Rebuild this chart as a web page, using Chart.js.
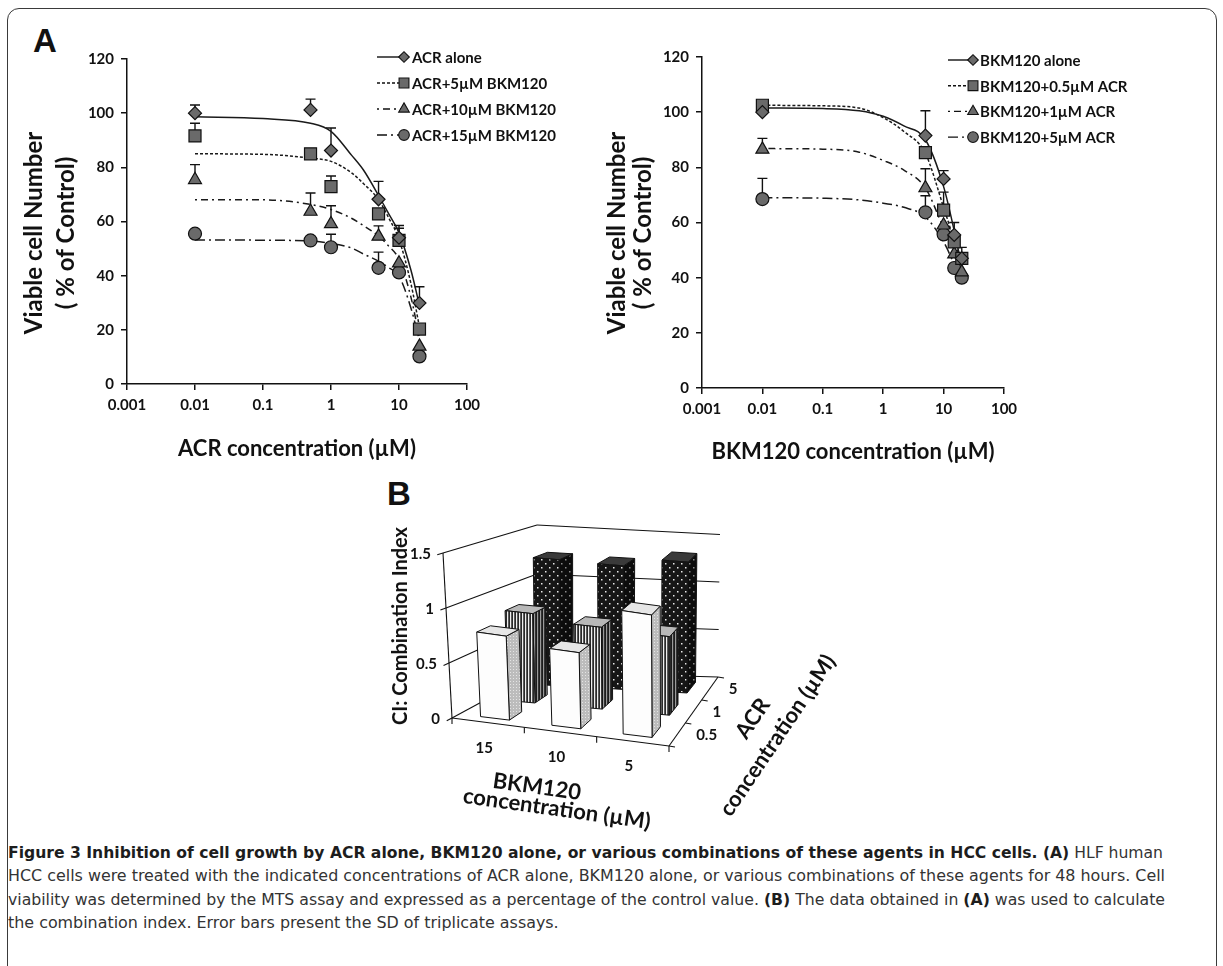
<!DOCTYPE html>
<html>
<head>
<meta charset="utf-8">
<title>Figure 3</title>
<script src="https://cdn.jsdelivr.net/npm/chart.js@4.4.1/dist/chart.umd.min.js"></script>
<style>
  body { margin: 0; background: #fff; }
  #page { position: relative; width: 1223px; height: 966px; overflow: hidden; font-family: Lato, sans-serif; color: #111; }
  #frame { position: absolute; left: 7px; top: 8px; width: 1208px; height: 1000px; border: 1.5px solid #3a3a3a; border-radius: 12px; }
  canvas { position: absolute; }
  .tag { position: absolute; font: bold 33px "Liberation Sans", Arial, sans-serif; line-height: 1; }
  .lbl { position: absolute; font: bold 22px Lato, sans-serif; white-space: nowrap; line-height: 1; }
  #caption { position: absolute; left: 8px; top: 841px; font-family: "Liberation Sans Narrow", "DejaVu Sans Condensed", sans-serif; font-size: 16px; color: #333; line-height: 23.4px; }
  #caption div { white-space: nowrap; transform-origin: left center; }
  #caption b { font-weight: 700; color: #1d1d1d; }
</style>
</head>
<body>
<div id="page">
  <div id="frame"></div>
  <div class="tag" style="left:33px; top:24px;">A</div>
  <div class="tag" style="left:387px; top:477px;">B</div>

  <canvas id="acrChart" width="600" height="480" style="left:0; top:0;"></canvas>
  <canvas id="bkmChart" width="623" height="480" style="left:600px; top:0;"></canvas>
  <canvas id="ciChart" width="500" height="360" style="left:380px; top:470px;"></canvas>

  <div class="lbl" style="left:399px; top:626px; font-size:20px; transform: translate(-50%,-50%) rotate(-90deg);">CI: Combination Index</div>
  <div class="lbl" style="left:537px; top:786px; transform: translate(-50%,-50%) rotate(8deg);">BKM120</div>
  <div class="lbl" style="left:557px; top:808px; transform: translate(-50%,-50%) rotate(8deg);">concentration (µM)</div>
  <div class="lbl" style="left:752px; top:718px; transform: translate(-50%,-50%) rotate(-56deg);">ACR</div>
  <div class="lbl" style="left:777px; top:735px; transform: translate(-50%,-50%) rotate(-56deg);">concentration (µM)</div>

  <div id="caption">
    <div><span><b>Figure 3 Inhibition of cell growth by ACR alone, BKM120 alone, or various combinations of these agents in HCC cells. (A)</b> HLF human</span></div>
    <div><span>HCC cells were treated with the indicated concentrations of ACR alone, BKM120 alone, or various combinations of these agents for 48 hours. Cell</span></div>
    <div><span>viability was determined by the MTS assay and expressed as a percentage of the control value. <b>(B)</b> The data obtained in <b>(A)</b> was used to calculate</span></div>
    <div><span>the combination index. Error bars present the SD of triplicate assays.</span></div>
  </div>
</div>

<script>
// ---- panel A, left: ACR dose series (% of control)
const acrDose = [0.01, 0.5, 1, 5, 10, 20];
const acrAlone = [100, 101.2, 86.2, 68.2, 54, 29.9];
const acrAloneErr = [3, 4, 8.3, 6.6, 4.5, 6];
const acrBkm5 = [91.6, 85, 72.9, 62.8, 53, 20.3];
const acrBkm5Err = [4.7, 0, 3.9, 0, 4.5, 0];
const acrBkm10 = [75.4, 63.7, 59.1, 54.5, 44.6, 13.9];
const acrBkm10Err = [5.6, 6.8, 6.7, 3.9, 0, 0];
const acrBkm15 = [55.5, 53, 50.5, 42.9, 41.2, 10.2];
const acrBkm15Err = [0, 0, 4.8, 5.8, 0, 0];

// fitted curves
const acrFitDose = [0.01, 0.1, 0.5, 1, 2, 3, 5, 7, 10, 15, 20];
const acrAloneFit = [98.7, 98, 96.3, 93.3, 84.5, 79, 69.6, 63, 55.8, 42, 29];
const acrBkm5Fit = [85, 84.8, 83.4, 82.2, 78, 74, 68.1, 61.5, 53.4, 37, 21];
const acrBkm10Fit = [68, 68, 66.3, 64.4, 61.2, 58.5, 54.6, 51, 46, 32, 17];
const acrBkm15Fit = [53.2, 53.1, 52.8, 51.9, 50.2, 48, 45.4, 43, 39.9, 28, 16];

// ---- panel A, right: BKM120 dose series
const bkmDose = [0.01, 5, 10, 15, 20];
const bkmAlone = [100, 91.5, 75.8, 55.5, 47];
const bkmAloneErr = [0, 9, 3, 4.5, 0];
const bkmAcr05 = [102.5, 85.3, 64.5, 53, 47];
const bkmAcr05Err = [1, 0, 6.5, 0, 4];
const bkmAcr1 = [86.5, 72.5, 59, 48.5, 42];
const bkmAcr1Err = [4, 7, 0, 0, 0];
const bkmAcr5 = [68.5, 63.7, 55.7, 43.5, 40];
const bkmAcr5Err = [7.5, 6, 0, 0, 0];

const bkmFitDose = [0.01, 0.1, 0.4, 1, 2.2, 5, 10, 15, 20];
const bkmAloneFit = [101.5, 101.3, 100.5, 98.5, 95, 90, 73, 57, 44];
const bkmAcr05Fit = [102.5, 102.3, 101.5, 98, 93, 85, 65.5, 53.5, 45.5];
const bkmAcr1Fit = [86.8, 86.6, 85.5, 82.5, 79, 72.5, 58, 50, 44];
const bkmAcr5Fit = [69, 68.8, 68.2, 67, 65.5, 62, 53, 45, 40];

const doseTicks = [0.001, 0.01, 0.1, 1, 10, 100];
const doseTickLabels = ['0.001', '0.01', '0.1', '1', '10', '100'];
const viabilityTicks = [0, 20, 40, 60, 80, 100, 120];

// ---- panel B: combination index
const bkmGroups = ['15', '10', '5'];
const acrRows = ['0.5', '1', '5'];
const ciAcr05 = [0.78, 0.72, 1.18];
const ciAcr1 = [0.86, 0.8, 0.78];
const ciAcr5 = [1.26, 1.25, 1.34];
const ciTicks = [0, 0.5, 1, 1.5];
const ciTickLabels = ['0', '0.5', '1', '1.5'];

Chart.defaults.font.family = 'Lato';
Chart.defaults.color = '#111';

const INK = '#111';
const DASH_DOT = [3, 2];
const DASH_DOTDASH = [2, 4, 7, 4];
const DASH_LONG = [10, 4, 2, 4];

// error bars go upward only, drawn behind the markers
const errorBars = {
  id: 'errorBars',
  beforeDatasetsDraw(chart) {
    const { ctx, scales: { x, y } } = chart;
    ctx.save();
    ctx.strokeStyle = INK;
    ctx.lineWidth = 1.4;
    chart.data.datasets.forEach((ds) => {
      if (!ds.errors) return;
      ds.data.forEach((p, i) => {
        const e = ds.errors[i];
        if (!e) return;
        const px = x.getPixelForValue(p.x);
        const py = y.getPixelForValue(p.y);
        const pe = y.getPixelForValue(p.y + e);
        ctx.beginPath();
        ctx.moveTo(px, py);
        ctx.lineTo(px, pe);
        ctx.moveTo(px - 5, pe);
        ctx.lineTo(px + 5, pe);
        ctx.stroke();
      });
    });
    ctx.restore();
  },
};

// "———◆ label" style legend like the excel original
const lineLegend = {
  id: 'lineLegend',
  afterDraw(chart, args, opts) {
    const ctx = chart.ctx;
    ctx.save();
    chart.data.datasets.filter((d) => d.errors).forEach((ds, i) => {
      const y = opts.top + i * opts.step;
      ctx.strokeStyle = INK;
      ctx.lineWidth = 1.4;
      ctx.setLineDash(ds.legendDash);
      ctx.beginPath();
      ctx.moveTo(opts.left, y);
      ctx.lineTo(opts.left + opts.len, y);
      ctx.stroke();
      ctx.setLineDash([]);
      ctx.fillStyle = ds.backgroundColor;
      ctx.strokeStyle = ds.borderColor;
      ctx.lineWidth = 1.1;
      Chart.helpers.drawPoint(ctx, { pointStyle: ds.pointStyle, radius: ds.pointRadius * 0.82, borderWidth: 1.1, rotation: 0 }, opts.left + opts.len, y);
      ctx.fillStyle = INK;
      ctx.font = opts.font;
      ctx.textAlign = 'left';
      ctx.textBaseline = 'middle';
      ctx.fillText(ds.label, opts.textX, y + 1);
    });
    ctx.restore();
  },
};

// two line rotated y title, placed by hand
const sideTitle = {
  id: 'sideTitle',
  afterDraw(chart, args, opts) {
    const ctx = chart.ctx;
    ctx.save();
    ctx.font = opts.font;
    ctx.fillStyle = INK;
    ctx.textAlign = 'center';
    ctx.textBaseline = 'middle';
    opts.lines.forEach((t, i) => {
      ctx.save();
      ctx.translate(opts.x[i], opts.y);
      ctx.rotate(-Math.PI / 2);
      ctx.fillText(t, 0, 0);
      ctx.restore();
    });
    ctx.restore();
  },
};

function doseDatasets(dose, fitDose, series) {
  const fits = series.map((s) => ({
    label: s.label + ' fit',
    data: fitDose.map((x, i) => ({ x, y: s.fit[i] })),
    showLine: true,
    pointRadius: 0,
    borderColor: '#1a1a1a',
    borderWidth: 1.5,
    borderDash: s.dash,
    cubicInterpolationMode: 'monotone',
    order: 2,
  }));
  const pts = series.map((s) => ({
    label: s.label,
    data: dose.map((x, i) => ({ x, y: s.values[i] })),
    errors: s.errors,
    legendDash: s.dash,
    showLine: false,
    pointStyle: s.marker,
    pointRadius: s.size,
    backgroundColor: '#6a6a6a',
    borderColor: INK,
    borderWidth: 1.2,
    order: 1,
  }));
  return fits.concat(pts);
}

function doseOptions(cfg) {
  const tickFont = { family: 'Lato', size: 15, weight: 'bold' };
  const axisLine = { color: INK, width: 1.5 };
  const tickGrid = { drawOnChartArea: false, color: INK, lineWidth: 1.5, tickLength: 6 };
  return {
    responsive: false,
    animation: false,
    events: [],
    layout: { padding: cfg.padding },
    scales: {
      x: {
        type: 'logarithmic',
        min: 0.001,
        max: 100,
        afterBuildTicks: (s) => { s.ticks = doseTicks.map((v) => ({ value: v })); },
        afterFit: (s) => { s.height = cfg.xHeight; },
        border: axisLine,
        grid: tickGrid,
        ticks: { font: tickFont, color: INK, padding: 6, autoSkip: false, maxRotation: 0, callback: (v, i) => doseTickLabels[i] },
        title: { display: true, text: cfg.xTitle, color: INK, font: { family: 'Lato', size: 22, weight: 'bold' }, padding: { top: 0, bottom: 4 } },
      },
      y: {
        min: 0,
        max: 120,
        afterBuildTicks: (s) => { s.ticks = viabilityTicks.map((v) => ({ value: v })); },
        afterFit: (s) => { s.width = cfg.yWidth; },
        border: axisLine,
        grid: tickGrid,
        ticks: { font: tickFont, color: INK, padding: 7 },
      },
    },
    plugins: {
      legend: { display: false },
      tooltip: { enabled: false },
      lineLegend: cfg.legend,
      sideTitle: cfg.side,
    },
  };
}

const yTitleLines = ['Viable cell Number', '( % of Control)'];
const yTitleFont = 'bold 24px Lato';

new Chart(document.getElementById('acrChart'), {
  type: 'scatter',
  data: {
    datasets: doseDatasets(acrDose, acrFitDose, [
      { label: 'ACR alone', values: acrAlone, errors: acrAloneErr, fit: acrAloneFit, dash: [], marker: 'rectRot', size: 6.5 },
      { label: 'ACR+5µM BKM120', values: acrBkm5, errors: acrBkm5Err, fit: acrBkm5Fit, dash: DASH_DOT, marker: 'rect', size: 8.5 },
      { label: 'ACR+10µM BKM120', values: acrBkm10, errors: acrBkm10Err, fit: acrBkm10Fit, dash: DASH_DOTDASH, marker: 'triangle', size: 7.5 },
      { label: 'ACR+15µM BKM120', values: acrBkm15, errors: acrBkm15Err, fit: acrBkm15Fit, dash: DASH_LONG, marker: 'circle', size: 6.5 },
    ]),
  },
  options: doseOptions({
    padding: { left: 13, right: 133, top: 59, bottom: 14 },
    yWidth: 114,
    xHeight: 82,
    xTitle: 'ACR concentration (µM)',
    legend: { left: 377, len: 27, textX: 412, top: 57, step: 26, font: 'bold 15px Lato' },
    side: { lines: yTitleLines, x: [34, 66], y: 233, font: yTitleFont },
  }),
  plugins: [errorBars, lineLegend, sideTitle],
});

new Chart(document.getElementById('bkmChart'), {
  type: 'scatter',
  data: {
    datasets: doseDatasets(bkmDose, bkmFitDose, [
      { label: 'BKM120 alone', values: bkmAlone, errors: bkmAloneErr, fit: bkmAloneFit, dash: [], marker: 'rectRot', size: 6.5 },
      { label: 'BKM120+0.5µM ACR', values: bkmAcr05, errors: bkmAcr05Err, fit: bkmAcr05Fit, dash: DASH_DOT, marker: 'rect', size: 8.5 },
      { label: 'BKM120+1µM ACR', values: bkmAcr1, errors: bkmAcr1Err, fit: bkmAcr1Fit, dash: DASH_DOTDASH, marker: 'triangle', size: 7.5 },
      { label: 'BKM120+5µM ACR', values: bkmAcr5, errors: bkmAcr5Err, fit: bkmAcr5Fit, dash: DASH_LONG, marker: 'circle', size: 6.5 },
    ]),
  },
  options: doseOptions({
    padding: { left: 2, right: 219, top: 57, bottom: 11 },
    yWidth: 100,
    xHeight: 81,
    xTitle: 'BKM120 concentration (µM)',
    legend: { left: 348, len: 25, textX: 380, top: 60, step: 25.7, font: 'bold 15px Lato' },
    side: { lines: yTitleLines, x: [17, 43], y: 233, font: yTitleFont },
  }),
  plugins: [errorBars, lineLegend, sideTitle],
});

// ---- panel B: fake excel 3d columns, bars come from the bar elements,
// then get pushed through a small perspective-ish projection
function makePattern(w, h, paint) {
  const c = document.createElement('canvas');
  c.width = w;
  c.height = h;
  paint(c.getContext('2d'));
  return c.getContext('2d').createPattern(c, 'repeat');
}

const stripes = (cols) => makePattern(cols.length, 1, (g) => {
  cols.forEach((c, i) => { g.fillStyle = c; g.fillRect(i, 0, 1, 1); });
});
const dots = (bg, dot) => makePattern(8, 8, (g) => {
  g.fillStyle = bg; g.fillRect(0, 0, 8, 8);
  g.fillStyle = dot; g.fillRect(1, 1, 1.5, 1.5); g.fillRect(5, 5, 1.5, 1.5);
});
const speckle = makePattern(3, 3, (g) => {
  g.fillStyle = '#bcbcbc'; g.fillRect(0, 0, 3, 3);
  g.fillStyle = '#e4e4e4'; g.fillRect(1, 1, 1, 1);
});

const rowFills = [
  { front: '#fdfdfd', side: speckle, top: '#e6e6e6' },
  { front: stripes(['#2a2a2a', '#eeeeee', '#5a5a5a']), side: stripes(['#1c1c1c', '#9a9a9a', '#333333']), top: '#b8b8b8' },
  { front: dots('#161616', '#e8e8e8'), side: dots('#0c0c0c', '#8a8a8a'), top: '#3a3a3a' },
];

function makeProjector(g) {
  const lerp = (a, b, t) => a + (b - a) * t;
  return (u, w, v) => {
    const fx = lerp(g.FL[0], g.FR[0], u), fy = lerp(g.FL[1], g.FR[1], u);
    const bx = lerp(g.BL[0], g.BR[0], u), by = lerp(g.BL[1], g.BR[1], u);
    const s = lerp(lerp(g.scale[0], g.scale[1], u), lerp(g.scale[2], g.scale[3], u), w);
    const lean = lerp(lerp(g.lean[0], g.lean[1], u), lerp(g.lean[2], g.lean[3], u), w);
    return [lerp(fx, bx, w) + lean * v, lerp(fy, by, w) - s * v];
  };
}

function seg(ctx, a, b) {
  ctx.beginPath();
  ctx.moveTo(a[0], a[1]);
  ctx.lineTo(b[0], b[1]);
  ctx.stroke();
}

function face(ctx, pts, fill) {
  ctx.beginPath();
  pts.forEach((p, i) => (i ? ctx.lineTo(p[0], p[1]) : ctx.moveTo(p[0], p[1])));
  ctx.closePath();
  ctx.fillStyle = fill;
  ctx.fill();
  ctx.stroke();
}

const box3d = {
  id: 'box3d',
  beforeDatasetsDraw(chart, args, g) {
    const ctx = chart.ctx;
    const P = makeProjector(g);
    const top = ciTicks[ciTicks.length - 1];
    ctx.save();
    ctx.strokeStyle = INK;
    ctx.lineWidth = 1.1;
    // wall gridlines (left wall + back wall)
    ciTicks.forEach((v) => {
      seg(ctx, P(0, 0, v), P(0, 1, v));
      seg(ctx, P(0, 1, v), P(1, 1, v));
    });
    // floor edges and value axis
    seg(ctx, P(0, 0, 0), P(1, 0, 0));
    seg(ctx, P(1, 0, 0), P(1, 1, 0));
    seg(ctx, P(0, 0, 0), P(0, 0, top));

    ctx.font = 'bold 15px Lato';
    ctx.fillStyle = INK;
    ctx.textBaseline = 'middle';
    // value ticks
    ciTicks.forEach((v, i) => {
      const a = P(0, 0, v), b = P(0, 1, v);
      const d = Math.hypot(a[0] - b[0], a[1] - b[1]);
      const t = [a[0] + (a[0] - b[0]) / d * 6, a[1] + (a[1] - b[1]) / d * 6];
      seg(ctx, a, t);
      ctx.textAlign = 'right';
      ctx.fillText(ciTickLabels[i], a[0] - 12, a[1] + 1);
    });
    // BKM120 category ticks + labels along the front edge
    const n = bkmGroups.length;
    for (let i = 0; i <= n; i++) {
      const a = P(i / n, 0, 0);
      seg(ctx, a, [a[0], a[1] + 6]);
    }
    ctx.textAlign = 'center';
    bkmGroups.forEach((lab, i) => {
      const a = P((i + 0.5) / n, 0, 0);
      ctx.fillText(lab, a[0] - 4, a[1] + 25);
    });
    // ACR depth ticks + labels along the right floor edge
    const m = acrRows.length;
    for (let r = 0; r <= m; r++) {
      const a = P(1, r / m, 0);
      seg(ctx, a, [a[0] + 6, a[1] + 1]);
    }
    ctx.textAlign = 'left';
    acrRows.forEach((lab, r) => {
      const a = P(1, (r + 0.5) / m, 0);
      ctx.fillText(lab, a[0] + 19, a[1] + 1);
    });
    ctx.restore();
  },
  afterDatasetsDraw(chart, args, g) {
    const ctx = chart.ctx;
    const P = makeProjector(g);
    const area = chart.chartArea;
    const ys = chart.scales.y;
    const m = chart.data.datasets.length;
    ctx.save();
    ctx.strokeStyle = INK;
    ctx.lineWidth = 1;
    ctx.lineJoin = 'round';
    // back row first so the front columns cover it
    for (let r = m - 1; r >= 0; r--) {
      const meta = chart.getDatasetMeta(r);
      const fills = rowFills[r];
      const w0 = (r + 0.5) / m - g.thick / 2;
      const w1 = w0 + g.thick;
      meta.data.forEach((el) => {
        const u0 = (el.x - el.width / 2 - area.left) / area.width;
        const u1 = (el.x + el.width / 2 - area.left) / area.width;
        const v = (el.base - el.y) / area.height * (ys.max - ys.min);
        face(ctx, [P(u1, w0, v), P(u1, w1, v), P(u1, w1, 0), P(u1, w0, 0)], fills.side);
        face(ctx, [P(u0, w0, v), P(u1, w0, v), P(u1, w1, v), P(u0, w1, v)], fills.top);
        face(ctx, [P(u0, w0, v), P(u1, w0, v), P(u1, w0, 0), P(u0, w0, 0)], fills.front);
      });
    }
    ctx.restore();
  },
};

const barStyle = { grouped: false, backgroundColor: 'rgba(0,0,0,0)', borderWidth: 0, categoryPercentage: 0.9, barPercentage: 0.45 };

new Chart(document.getElementById('ciChart'), {
  type: 'bar',
  data: {
    labels: bkmGroups,
    datasets: [
      { label: 'ACR 0.5µM', data: ciAcr05, ...barStyle },
      { label: 'ACR 1µM', data: ciAcr1, ...barStyle },
      { label: 'ACR 5µM', data: ciAcr5, ...barStyle },
    ],
  },
  options: {
    responsive: false,
    animation: false,
    events: [],
    layout: { padding: 20 },
    scales: {
      x: { display: false },
      y: { display: false, min: 0, max: 1.5 },
    },
    plugins: {
      legend: { display: false },
      tooltip: { enabled: false },
      box3d: {
        FL: [72, 248], FR: [289, 276], BL: [157, 202], BR: [338, 207],
        scale: [110, 104, 98, 95],
        lean: [-6, 0, 0, 1.3],
        thick: 0.16,
      },
    },
  },
  plugins: [box3d],
});

// squeeze caption lines to the printed widths
const capTargets = [1155, 1157, 1157];
let lastScale = 1;
document.querySelectorAll('#caption div').forEach((row, i) => {
  const w = row.firstElementChild.getBoundingClientRect().width;
  const k = i < capTargets.length ? capTargets[i] / w : lastScale;
  row.style.transform = 'scaleX(' + k + ')';
  if (i === 1) lastScale = k;
});
</script>
</body>
</html>
